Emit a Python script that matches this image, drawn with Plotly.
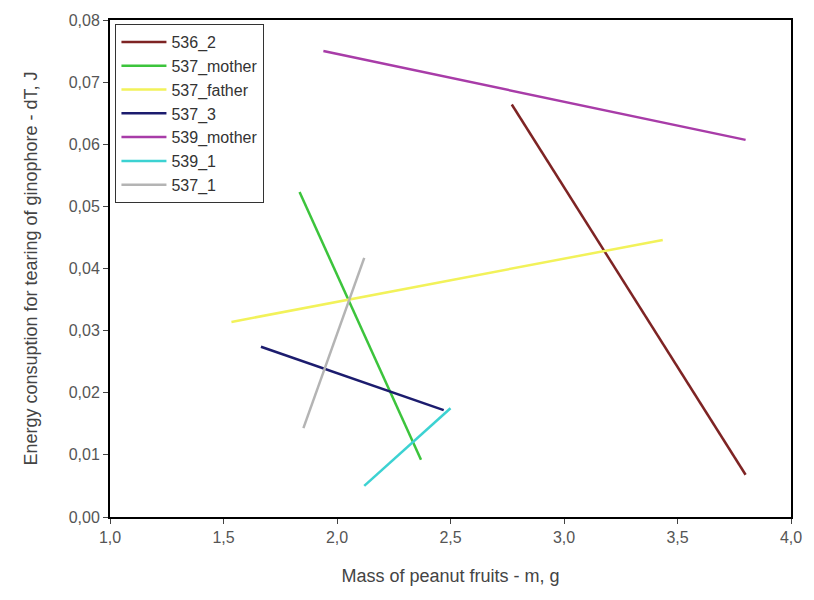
import plotly.graph_objects as go

series_names = ["536_2", "537_mother", "537_father", "537_3", "539_mother", "539_1", "537_1"]
x_start = [2.77, 1.835, 1.535, 1.665, 1.94, 2.12, 1.852]
x_end = [3.80, 2.37, 3.435, 2.47, 3.80, 2.50, 2.12]
y_start = [0.0664, 0.0523, 0.0314, 0.0274, 0.0750, 0.0050, 0.0143]
y_end = [0.0068, 0.0092, 0.0446, 0.0172, 0.0607, 0.0175, 0.0417]
colors = ["#7e2424", "#3cc43c", "#f2f25a", "#1c1c6e", "#a83ca8", "#3cd2d2", "#b4b4b4"]

x_ticks = [1.0, 1.5, 2.0, 2.5, 3.0, 3.5, 4.0]
y_ticks = [0.00, 0.01, 0.02, 0.03, 0.04, 0.05, 0.06, 0.07, 0.08]

fig = go.Figure()
for name, xs, xe, ys, ye, c in zip(series_names, x_start, x_end, y_start, y_end, colors):
    fig.add_trace(go.Scatter(x=[xs, xe], y=[ys, ye], mode="lines", name=name,
                             line=dict(color=c, width=2.5)))

axis_common = dict(showline=True, linecolor="black", linewidth=2, mirror=True,
                   ticks="outside", ticklen=5, tickcolor="#444", showgrid=False,
                   zeroline=False, tickfont=dict(family="Liberation Sans, Arial", size=16, color="#555"))

fig.update_layout(
    width=814, height=600,
    margin=dict(l=110, r=14, t=20, b=83),
    plot_bgcolor="white", paper_bgcolor="white",
    separators=", ",
    font=dict(family="Liberation Sans, Arial", color="#444"),
    xaxis=dict(range=[1.0, 4.0], tickvals=x_ticks, tickformat=".1f",
               title=dict(text="Mass of peanut fruits - m, g", font=dict(size=18, color="#444"), standoff=24),
               **axis_common),
    yaxis=dict(range=[0.0, 0.08], tickvals=y_ticks, tickformat=".2f",
               title=dict(text="Energy consuption for tearing of ginophore - dT, J", font=dict(size=18, color="#444"), standoff=26),
               **axis_common),
    legend=dict(x=0.008, y=0.992, xanchor="left", yanchor="top",
                bordercolor="#333", borderwidth=1, bgcolor="white",
                font=dict(size=16, color="#333"), tracegroupgap=0, itemwidth=45),
)

fig.write_html("out.html")
